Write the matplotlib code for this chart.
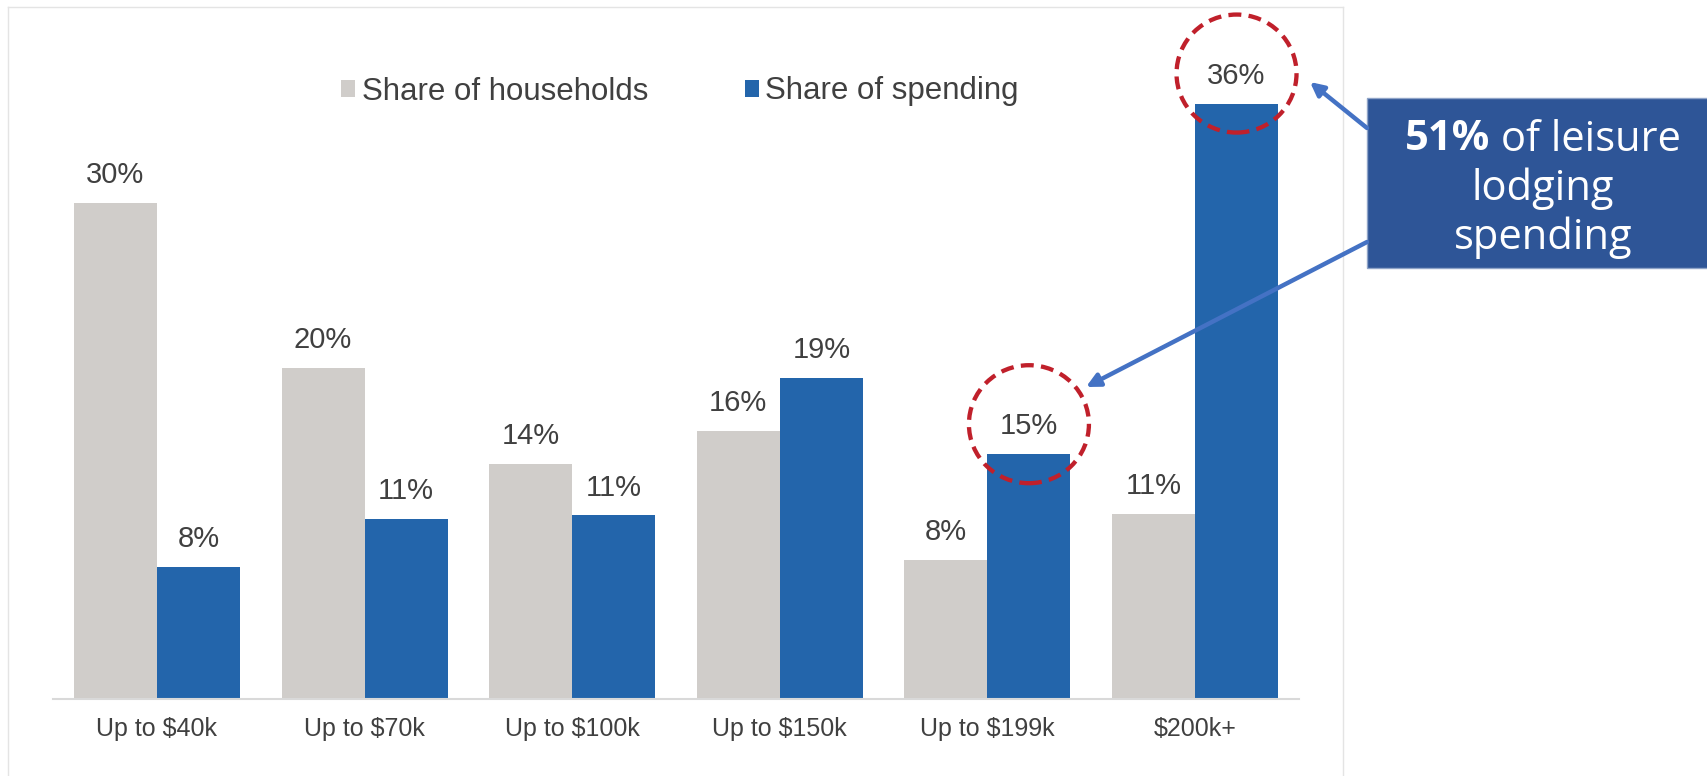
import numpy as np
import matplotlib
matplotlib.use("Agg")
from matplotlib import pyplot as plt
from matplotlib.patches import Ellipse, Rectangle
from matplotlib.lines import Line2D
from matplotlib.transforms import IdentityTransform

# data (% share)
categories = ["Up to $40k", "Up to $70k", "Up to $100k", "Up to $150k", "Up to $199k", "$200k+"]
households = [30.0, 20.0, 14.2, 16.2, 8.4, 11.2]
spending = [8.0, 10.9, 11.1, 19.4, 14.8, 36.0]
series_names = ["Share of households", "Share of spending"]
highlight = [4, 5]  # spending bars circled in red

grey = "#D0CDCA"
blue = "#2365AB"
txt = "#404040"

plt.rcParams["font.family"] = ["Liberation Sans", "DejaVu Sans"]

W, H = 1708, 776
fig = plt.figure(figsize=(W / 100, H / 100), dpi=100)
ax = fig.add_axes([53.2 / W, 77 / H, 1245.6 / W, 661.6 / H])

x = np.arange(len(categories))
b1 = ax.bar(x - 0.2, households, width=0.4, color=grey, label=series_names[0])
b2 = ax.bar(x + 0.2, spending, width=0.4, color=blue, label=series_names[1])

ax.set_xlim(-0.5, 5.5)
ax.set_ylim(0, 40)
for s in ["top", "right", "left"]:
    ax.spines[s].set_visible(False)
ax.spines["bottom"].set_color("#D9D9D9")
ax.spines["bottom"].set_linewidth(1.5)
ax.set_yticks([])
ax.set_xticks(x)
ax.set_xticklabels(categories, fontsize=18, color=txt)
ax.tick_params(axis="x", length=0, pad=13)

for bars, vals in [(b1, households), (b2, spending)]:
    for rect, v in zip(bars, vals):
        ax.annotate(f"{v:.0f}%", (rect.get_x() + rect.get_width() / 2, v),
                    xytext=(0, 20), textcoords="offset points",
                    ha="center", va="center", fontsize=21, color=txt)

leg = ax.legend(loc="center", bbox_to_anchor=(680 / W, (H - 91.5) / H),
                bbox_transform=fig.transFigure, ncol=2, frameon=False,
                fontsize=22.5, handlelength=0.45, handleheight=0.45,
                handletextpad=0.2, columnspacing=3.1)
for t in leg.get_texts():
    t.set_color(txt)

# red dashed circles around highlighted labels
fig.canvas.draw()
for i in highlight:
    cx, cy = ax.transData.transform((x[i] + 0.2, spending[i]))
    cy += 30
    ax.add_artist(Ellipse((cx, cy), 120, 118, transform=IdentityTransform(),
                          fill=False, edgecolor="#C0202B", linewidth=3.1,
                          linestyle=(0, (3.0, 1.7)), clip_on=False, zorder=5))

# light frame around chart area
for xs, ys in [([8, 1343], [H - 7, H - 7]), ([8, 8], [0, H - 7]), ([1343, 1343], [0, H - 7])]:
    fig.add_artist(Line2D([v / W for v in xs], [v / H for v in ys],
                          color="#E4E4E4", linewidth=1))

# callout box
box_col = "#2E5597"
fig.add_artist(Rectangle((1367 / W, (H - 268) / H), (W - 1367) / W, 170 / H,
                         transform=fig.transFigure, facecolor=box_col,
                         edgecolor="#8FA4C8", linewidth=1))
font2 = "Open Sans"
fs2 = 30
bx = 1543
fig.text(bx / W, (H - 189) / H, "lodging", ha="center", va="center",
         fontsize=fs2, color="white", family=font2)
fig.text(bx / W, (H - 238) / H, "spending", ha="center", va="center",
         fontsize=fs2, color="white", family=font2)
t_b = fig.text(0, (H - 140) / H, "51%", ha="left", va="center", fontsize=fs2,
               color="white", family=font2, fontweight="bold")
t_r = fig.text(0, (H - 140) / H, " of leisure", ha="left", va="center",
               fontsize=fs2, color="white", family=font2)
r = fig.canvas.get_renderer()
wb = t_b.get_window_extent(r).width
wr = t_r.get_window_extent(r).width
x0 = bx - (wb + wr) / 2
t_b.set_x(x0 / W)
t_r.set_x((x0 + wb) / W)

# arrows from box
arrow_col = "#4472C4"
for start, end in [((1367, 128), (1310, 82)), ((1367, 242), (1086, 387))]:
    fig.add_artist(plt.Annotation("", xy=(end[0] / W, (H - end[1]) / H),
                                  xytext=(start[0] / W, (H - start[1]) / H),
                                  xycoords="figure fraction", textcoords="figure fraction",
                                  arrowprops=dict(arrowstyle="-|>,head_length=0.8,head_width=0.4",
                                                  color=arrow_col, lw=3.2,
                                                  shrinkA=0, shrinkB=0)))

fig.savefig("out.png", dpi=100)
